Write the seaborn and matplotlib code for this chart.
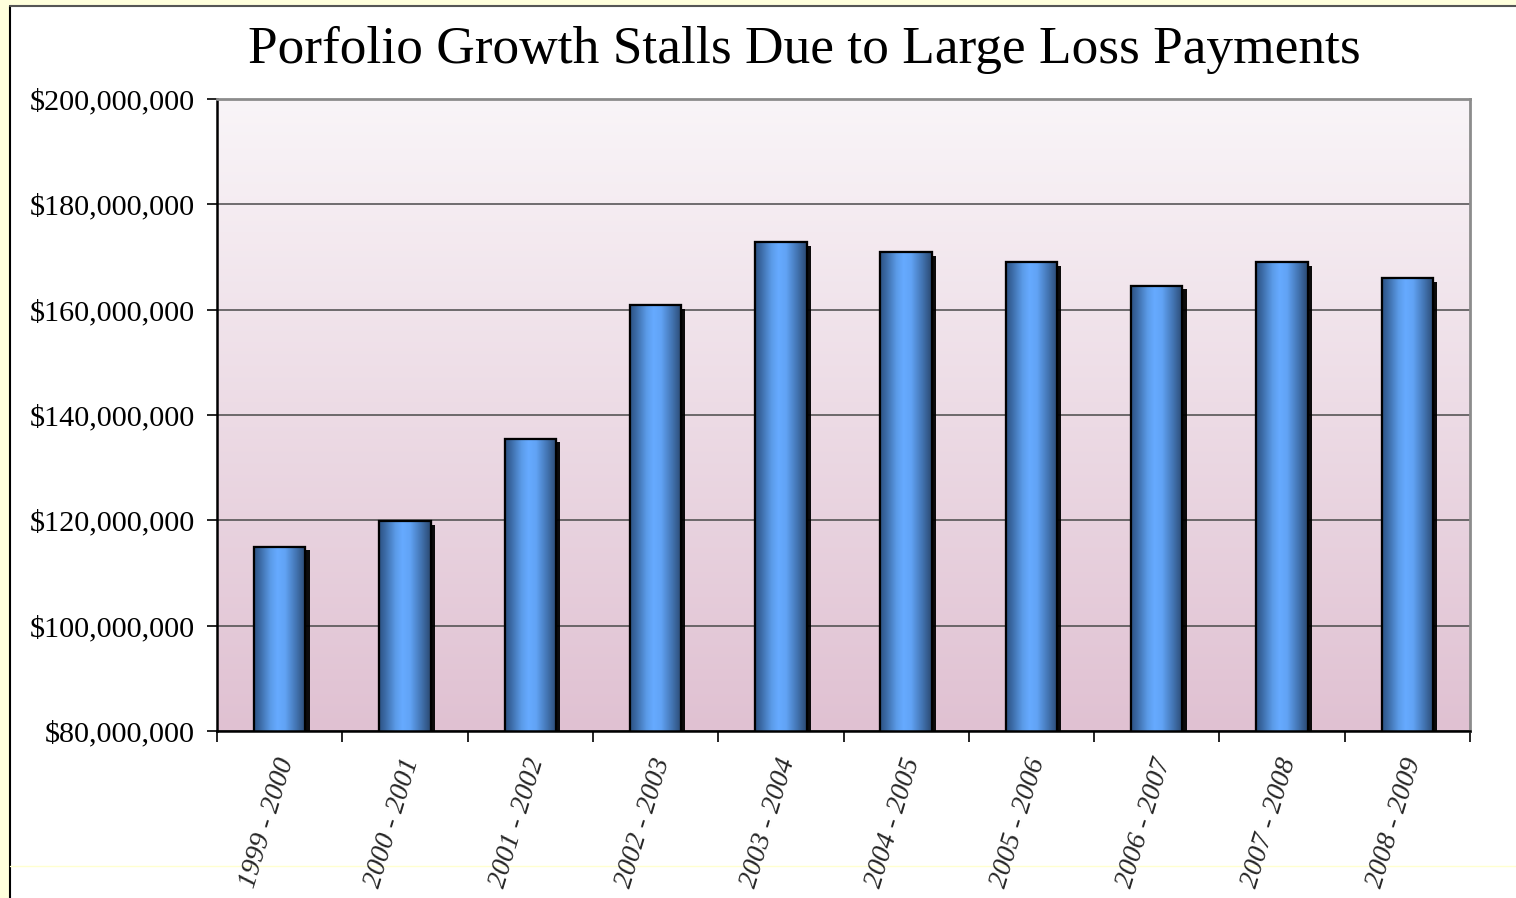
import numpy as np
import pandas as pd
import matplotlib
matplotlib.use("Agg")
import matplotlib.pyplot as plt
import matplotlib.patheffects as pe
import matplotlib.transforms as mtrans
from matplotlib.colors import LinearSegmentedColormap
from matplotlib.patches import Rectangle
from matplotlib.ticker import FuncFormatter, FixedLocator
import seaborn as sns

# ---- data ----
periods = ["1999 - 2000", "2000 - 2001", "2001 - 2002", "2002 - 2003", "2003 - 2004",
           "2004 - 2005", "2005 - 2006", "2006 - 2007", "2007 - 2008", "2008 - 2009"]
portfolio = [115.0e6, 119.8e6, 135.5e6, 160.8e6, 172.8e6,
             170.9e6, 169.0e6, 164.5e6, 169.0e6, 166.0e6]
title = "Porfolio Growth Stalls Due to Large Loss Payments"
y_min, y_max, y_step = 80e6, 200e6, 20e6

df = pd.DataFrame({"period": periods, "value": portfolio})

sns.set_theme(style="white")
plt.rcParams["font.family"] = ["Liberation Serif", "DejaVu Serif"]

W, H = 1516, 898
fig = plt.figure(figsize=(W / 100, H / 100), dpi=100)
fig.patch.set_facecolor("#FFFFDC")

# white chart area with border
fig.patches.append(Rectangle((10 / W, 0), 1, 1 - 6 / H, transform=fig.transFigure,
                             facecolor="white", edgecolor="none", zorder=-5))
fig.lines.append(plt.Line2D([10 / W, 10 / W], [0, 1 - 6 / H], transform=fig.transFigure,
                            color="black", lw=1.5, zorder=-4))
fig.lines.append(plt.Line2D([10 / W, 1], [1 - 6 / H, 1 - 6 / H], transform=fig.transFigure,
                            color="#555555", lw=1.5, zorder=-4))
fig.lines.append(plt.Line2D([10 / W, 1], [1 - 866 / H, 1 - 866 / H], transform=fig.transFigure,
                            color="#FFFFD0", lw=1.0, zorder=-4))

ax = fig.add_axes([217 / W, 1 - 731 / H, (1470 - 217) / W, (731 - 99) / H])
ax.set_zorder(1)
ax.patch.set_facecolor("none")

sns.barplot(data=df, x="period", y="value", ax=ax, width=0.41, color="#5A9AE8",
            edgecolor="black", linewidth=1.5, zorder=2)

# background gradient
bg = LinearSegmentedColormap.from_list("bg", ["#E0C1D2", "#F9F5F8"])
ax.imshow(np.linspace(0, 1, 256).reshape(-1, 1)[::-1], extent=[0, 1, 0, 1],
          transform=ax.transAxes, cmap=bg, aspect="auto", zorder=-2)

# bar gradients and shadows
barcmap = LinearSegmentedColormap.from_list(
    "bar", [(0.0, "#2C5283"), (0.12, "#3C6BA6"), (0.32, "#5B9BE8"), (0.45, "#66AAFF"),
            (0.6, "#61A3F5"), (0.82, "#4273B0"), (1.0, "#2A4870")])
grad = np.linspace(0, 1, 256).reshape(1, -1)
for p in list(ax.patches):
    x0, y0 = p.get_x(), p.get_y()
    w, h = p.get_width(), p.get_height()
    p.set_path_effects([pe.SimplePatchShadow(offset=(3, -2.5), shadow_rgbFace="black", alpha=0.95),
                        pe.Normal()])
    ybot = max(y0, y_min)
    im = ax.imshow(grad, extent=[x0, x0 + w, ybot, y0 + h], cmap=barcmap,
                   aspect="auto", zorder=2.5)
    im.set_clip_path(p)
    ax.add_patch(Rectangle((x0, y0), w, h, fill=False, edgecolor="black", lw=1.6, zorder=3))

ax.set_xlim(-0.5, len(periods) - 0.5)
ax.set_ylim(y_min, y_max)
ax.set_aspect("auto")

# grid
ax.yaxis.set_major_locator(FixedLocator(np.arange(y_min, y_max + 1, y_step)))
ax.grid(axis="y", color="#4A4A4A", lw=1.1, zorder=1)
ax.grid(axis="x", visible=False)
ax.set_axisbelow(True)

ax.yaxis.set_major_formatter(FuncFormatter(lambda v, _: f"${v:,.0f}"))
ax.tick_params(axis="y", which="major", left=True, length=7, width=1.2, color="black",
               pad=9, labelsize=21.8, labelcolor="black")
ax.set_xticks(range(len(periods)))
ax.set_xticklabels(periods, rotation=73, fontstyle="italic", fontsize=20,
                   ha="right", va="center", rotation_mode="anchor")
ax.tick_params(axis="x", which="major", bottom=False, pad=14)
shift = mtrans.ScaledTranslation(7 / 100, 0, fig.dpi_scale_trans)
for lab in ax.get_xticklabels():
    lab.set_transform(lab.get_transform() + shift)
ax.set_xticks(np.arange(-0.5, len(periods), 1), minor=True)
ax.tick_params(axis="x", which="minor", bottom=True, length=8, width=1.2, color="black")

ax.set_xlabel("")
ax.set_ylabel("")
for s in ["left", "bottom"]:
    ax.spines[s].set_color("black")
    ax.spines[s].set_linewidth(1.8)
for s in ["top", "right"]:
    ax.spines[s].set_color("#8C8C8C")
    ax.spines[s].set_linewidth(2.0)
    ax.spines[s].set_visible(True)

fig.text(804 / W, 1 - 50 / H, title, ha="center", va="center", fontsize=38.4, color="black")

fig.savefig("out.png", dpi=100, facecolor=fig.get_facecolor())
